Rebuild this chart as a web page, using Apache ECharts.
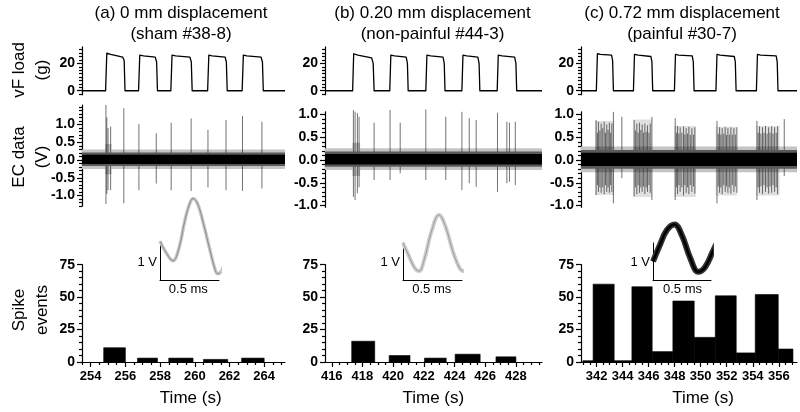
<!DOCTYPE html>
<html><head><meta charset="utf-8">
<script src="https://cdn.jsdelivr.net/npm/echarts@6/dist/echarts.min.js"></script>
<style>html,body{margin:0;padding:0;background:#fff}#c{width:800px;height:412px}</style>
</head><body><div id="c"></div>
<script>
// ================= DATA =================
const titles = [['(a) 0 mm displacement','(sham #38-8)'],['(b) 0.20 mm displacement','(non-painful #44-3)'],['(c) 0.72 mm displacement','(painful #30-7)']];
const rowNames = ['vF load\n(g)','EC data\n(V)','Spike\nevents'];
const timeLabel = 'Time (s)';
const insetVLabel = '1 V';
const insetHLabel = '0.5 ms';

const xTicksA = [254,256,258,260,262,264];
const xTicksB = [416,418,420,422,424,426,428];
const xTicksC = [342,344,346,348,350,352,354,356];
const yTicksLoad = [0,20];
const yTicksEC = [-1.0,-0.5,0.0,0.5,1.0];
const yTicksHist = [0,25,50,75];

// vF load traces [time s, load g]
const loadA = [[253.5,0],[254.86,0],[254.93,27.5],[255.15,26.5],[255.85,24.5],[255.93,22],[255.98,0],
  [256.76,0],[256.83,26],[257.05,25.5],[257.72,24.5],[257.8,21],[257.85,0],
  [258.62,0],[258.69,26],[258.9,25.5],[259.72,24.5],[259.8,21],[259.85,0],
  [260.74,0],[260.81,26],[261.0,25.5],[261.75,24.5],[261.82,21],[261.87,0],
  [262.73,0],[262.8,26],[263.0,25.5],[263.82,24.5],[263.9,21],[263.95,0],[265.2,0]];
const loadB = [[415.56,0],[417.36,0],[417.43,27],[417.7,26],[418.6,24],[418.7,20],[418.76,0],
  [419.78,0],[419.85,26],[420.1,25.5],[420.85,24.5],[420.93,20],[420.98,0],
  [422.13,0],[422.2,26],[422.45,25.5],[423.25,24.5],[423.33,20],[423.38,0],
  [424.48,0],[424.55,26],[424.8,25.5],[425.52,24.5],[425.6,20],[425.65,0],
  [426.78,0],[426.85,26],[427.1,25.5],[427.92,24.5],[428.0,20],[428.05,0],[429.7,0]];
const loadC = [[340.8,0],[341.98,0],[342.06,27],[342.3,26.5],[343.15,26],[343.23,22],[343.29,0],
  [344.83,0],[344.91,26.5],[345.2,26],[346.17,25],[346.25,21],[346.31,0],
  [347.98,0],[348.06,26.5],[348.3,26],[349.35,25.5],[349.43,21],[349.49,0],
  [351.17,0],[351.25,26.5],[351.5,26],[352.58,25],[352.66,21],[352.72,0],
  [354.28,0],[354.36,26.5],[354.6,26],[355.8,25.5],[355.88,21],[355.94,0],[357.4,0]];

// EC noise envelope [t0, t1, low V, high V]
const noiseOuterA = [[253.5,265.2,-0.25,0.3],[254.85,255.2,-0.4,0.45]];
const noiseMidA = [[253.5,265.2,-0.17,0.21]];
const noiseInnerA = [[253.5,265.2,-0.11,0.15]];
const noiseOuterB = [[415.56,429.7,-0.22,0.26],[417.35,417.85,-0.35,0.38]];
const noiseMidB = [[415.56,429.7,-0.15,0.19]];
const noiseInnerB = [[415.56,429.7,-0.1,0.13]];
const noiseOuterC = [[340.8,357.4,-0.27,0.3]];
const noiseMidC = [[340.8,357.4,-0.19,0.22]];
const noiseInnerC = [[340.8,357.4,-0.13,0.16]];
// EC spikes [time s, top V, bottom V]
const spikesA = [[254.88,1.55,-1.24],[254.93,1.2,-0.95],[255.0,0.9,-0.85],[255.15,0.94,-0.85],[255.91,1.46,-1.22],
  [256.78,1.01,-0.85],[257.78,0.75,-0.66],[258.64,1.05,-0.85],[259.79,1.17,-0.87],[260.76,0.85,-0.77],
  [261.8,1.13,-0.85],[262.75,1.24,-0.87],[263.87,1.08,-0.8]];
const spikesB = [[417.41,1.1,-0.81],[417.52,1.06,-0.88],[417.67,1.03,-0.73],[417.78,0.95,-0.6],[418.76,0.82,-0.44],
  [419.8,1.1,-0.44],[420.46,0.82,-0.29],[422.13,1.11,-0.44],[423.43,0.95,-0.44],[424.48,1.06,-0.66],
  [424.96,0.92,-0.51],[425.41,0.88,-0.59],[426.8,1.04,-0.7],[427.41,0.84,-0.51],[427.58,0.82,-0.48],[427.96,0.84,-0.55]];
const burstsC = [[341.88,343.35,-0.77,0.86],[344.83,346.25,-0.81,0.89],[347.95,349.63,-0.81,0.75],[351.15,352.78,-0.78,0.73],[354.27,356.06,-0.78,0.75]];
const spikesC = [[341.96,0.88,-0.77],[342.06,0.6,-0.55],[342.14,0.84,-0.7],[342.25,0.65,-0.6],[342.35,0.8,-0.72],[342.47,0.7,-0.6],[342.58,0.84,-0.75],[342.68,0.6,-0.55],[342.78,0.78,-0.7],[342.88,0.66,-0.6],[342.98,0.82,-0.72],[343.08,0.6,-0.55],[343.17,0.8,-0.7],[343.29,1.06,-0.95],
  [343.94,0.95,-0.4],
  [344.88,0.88,-0.8],[344.98,0.65,-0.6],[345.09,0.8,-0.75],[345.19,0.6,-0.55],[345.29,0.82,-0.72],[345.4,0.66,-0.6],[345.5,0.78,-0.7],[345.6,0.6,-0.58],[345.71,0.8,-0.75],[345.81,0.62,-0.6],[345.91,0.76,-0.7],[346.02,0.6,-0.55],[346.12,0.8,-0.72],[346.25,0.95,-0.88],
  [348.04,0.92,-0.88],[348.13,0.6,-0.6],[348.22,0.75,-0.75],[348.32,0.58,-0.55],[348.42,0.72,-0.7],[348.55,0.6,-0.6],[348.68,0.74,-0.78],[348.78,0.56,-0.55],[348.88,0.7,-0.72],[348.99,0.58,-0.6],[349.09,0.73,-0.75],[349.2,0.55,-0.55],[349.32,0.7,-0.7],[349.44,0.56,-0.58],[349.55,0.72,-0.74],
  [351.25,0.86,-0.95],[351.35,0.58,-0.58],[351.45,0.72,-0.72],[351.55,0.56,-0.6],[351.65,0.7,-0.75],[351.77,0.58,-0.55],[351.88,0.73,-0.7],[351.98,0.55,-0.58],[352.09,0.7,-0.72],[352.2,0.56,-0.6],[352.32,0.72,-0.74],[352.43,0.56,-0.55],[352.55,0.7,-0.7],[352.66,0.56,-0.58],[352.78,0.72,-0.72],
  [354.32,0.86,-0.88],[354.42,0.6,-0.6],[354.52,0.74,-0.72],[354.63,0.58,-0.58],[354.75,0.72,-0.75],[354.86,0.6,-0.55],[354.98,0.75,-0.7],[355.1,0.58,-0.6],[355.22,0.72,-0.74],[355.33,0.6,-0.58],[355.45,0.74,-0.72],[355.56,0.58,-0.55],[355.68,0.72,-0.7],[355.8,0.6,-0.6],[355.91,0.74,-0.75],
  [356.42,0.9,-0.35]];

// Spike-event histograms [bin start s, bin end s, count]
const histA = [[254.75,256.0,11],[256.7,257.85,3],[258.5,259.9,3],[260.5,261.9,2],[262.7,264.0,3]];
const histB = [[417.3,418.8,16],[419.74,421.1,5],[422.04,423.46,3],[424.04,425.67,6],[426.7,428.0,4]];
const histC = [[340.94,341.73,1],[341.73,343.35,60],[343.35,344.71,1],[344.71,346.27,58],[346.27,347.86,8],[347.86,349.5,47],
  [349.5,351.12,19],[351.12,352.73,51],[352.73,354.19,7],[354.19,355.96,52],[355.96,357.09,10]];

// Averaged spike waveforms [time ms, V]
const waveA = [[0.0,1.05],[0.05,0.75],[0.11,0.52],[0.16,0.85],[0.21,1.6],[0.25,2.05],[0.28,2.2],[0.32,2.05],[0.37,1.5],[0.42,0.85],[0.47,0.25],[0.49,0.17],[0.53,0.3],[0.59,0.9],[0.64,1.5],[0.67,1.85]];
const waveB = [[0,1.0],[0.05,0.65],[0.1,0.32],[0.136,0.24],[0.18,0.55],[0.24,1.3],[0.305,1.76],[0.36,1.45],[0.42,0.8],[0.48,0.32],[0.517,0.24],[0.57,0.45],[0.63,0.9],[0.68,1.27]];
const waveC = [[0,0.5],[0.06,0.95],[0.12,1.35],[0.186,1.5],[0.25,1.2],[0.32,0.6],[0.39,0.22],[0.45,0.35],[0.52,0.8],[0.58,1.15],[0.63,1.3]];

// ================= LAYOUT / RENDERING =================
const FONT = '"Liberation Sans", Arial, Helvetica, sans-serif';
const cols = [
  {left:82, width:203, xr:[253.5,265.2], ecr:[-1.3,1.55], ecTop:105, ecH:101.2, inset:{left:160,width:59}, titleX:181, timeX:190.7, hX:188.3,
   xt:xTicksA, load:loadA, nOut:noiseOuterA, nMid:noiseMidA, nIn:noiseInnerA, spikes:spikesA, bursts:[], hist:histA, wave:waveA, wc:['#c8c8c8','#8c8c8c'], ww:[3.5,1]},
  {left:325, width:217, xr:[415.56,429.7], ecr:[-1.04,1.06], ecTop:111.8, ecH:95.55, inset:{left:403,width:59}, titleX:432.5, timeX:433.3, hX:431.7,
   xt:xTicksB, load:loadB, nOut:noiseOuterB, nMid:noiseMidB, nIn:noiseInnerB, spikes:spikesB, bursts:[], hist:histB, wave:waveB, wc:['#d0d0d0','#9a9a9a'], ww:[4,1]},
  {left:581, width:216, xr:[340.8,357.4], ecr:[-1.04,1.06], ecTop:111.8, ecH:95.55, inset:{left:653,width:58}, titleX:682, timeX:703, hX:682.5,
   xt:xTicksC, load:loadC, nOut:noiseOuterC, nMid:noiseMidC, nIn:noiseInnerC, spikes:spikesC, bursts:burstsC, hist:histC, wave:waveC, wc:['#333333','#000000'], ww:[6,2.5]}
];
const LOAD = {top:46.9, h:47.95, min:-3, max:32};
const HIST = {top:264.7, h:97.3, min:0, max:75};
const INSET = {top:243, h:37};

const grid=[], xAxis=[], yAxis=[], series=[], graphic=[];
const lineStyle = {color:'#000', width:1.2};
const lab = {color:'#000', fontFamily:FONT, fontSize:13, fontWeight:'bold'};
const labY = Object.assign({}, lab, {fontSize:14});

function steps(min,max,step,majors){
  const out=[]; const s=Math.ceil(min/step-1e-9);
  for(let i=s; i*step<=max+1e-9; i++){ const v=+(i*step).toFixed(4); if(!majors.some(m=>Math.abs(m-v)<1e-6)) out.push(v); }
  return out;
}
function majorY(gi,min,max,majors,fmt){
  return {type:'value', gridIndex:gi, min, max, position:'left',
    axisLine:{show:true, onZero:false, lineStyle}, axisTick:{show:true, length:5, customValues:majors, lineStyle},
    axisLabel:Object.assign({show:true, customValues:majors, margin:7, formatter:fmt}, labY), splitLine:{show:false}};
}
function minorY(gi,min,max,minors){
  return {type:'value', gridIndex:gi, min, max, position:'left',
    axisLine:{show:false}, axisTick:{show:true, length:3, customValues:minors, lineStyle}, axisLabel:{show:false}, splitLine:{show:false}};
}
function hiddenX(gi,min,max){ return {type:'value', gridIndex:gi, min, max, show:false, splitLine:{show:false}}; }

function rectRender(fill){
  return function(params, api){
    const p1 = api.coord([api.value(0), api.value(3)]);
    const p2 = api.coord([api.value(1), api.value(2)]);
    return {type:'rect', shape:{x:p1[0], y:p1[1], width:p2[0]-p1[0], height:p2[1]-p1[1]}, style:{fill}};
  };
}
function spikeRender(stroke,w){
  return function(params, api){
    const a = api.coord([api.value(0), api.value(1)]);
    const b = api.coord([api.value(0), api.value(2)]);
    return {type:'line', shape:{x1:a[0], y1:a[1], x2:b[0], y2:b[1]}, style:{stroke, lineWidth:w}};
  };
}
function histRender(params, api){
  const a = api.coord([api.value(0), api.value(2)]);
  const b = api.coord([api.value(1), 0]);
  return {type:'rect', shape:{x:a[0], y:a[1], width:b[0]-a[0], height:b[1]-a[1]}, style:{fill:'#000', stroke:'#000', lineWidth:0.6}};
}

cols.forEach((c,ci)=>{
  // ---- load row
  let gi = grid.push({left:c.left, top:LOAD.top, width:c.width, height:LOAD.h})-1;
  let xi = xAxis.push(hiddenX(gi,c.xr[0],c.xr[1]))-1;
  let yi = yAxis.push(majorY(gi,LOAD.min,LOAD.max,yTicksLoad,v=>String(v)))-1;
  yAxis.push(minorY(gi,LOAD.min,LOAD.max,steps(LOAD.min,LOAD.max,2.5,yTicksLoad)));
  series.push({type:'line', xAxisIndex:xi, yAxisIndex:yi, data:c.load, showSymbol:false, symbol:'none',
    lineStyle:{color:'#000', width:1.3, join:'round'}, silent:true});

  // ---- EC row
  gi = grid.push({left:c.left, top:c.ecTop, width:c.width, height:c.ecH})-1;
  xi = xAxis.push(hiddenX(gi,c.xr[0],c.xr[1]))-1;
  yi = yAxis.push(majorY(gi,c.ecr[0],c.ecr[1],yTicksEC,v=>v.toFixed(1)))-1;
  yAxis.push(minorY(gi,c.ecr[0],c.ecr[1],steps(c.ecr[0],c.ecr[1],0.1,yTicksEC)));
  const enc = {x:[0,1], y:[2,3]};
  series.push({type:'custom', xAxisIndex:xi, yAxisIndex:yi, data:c.nOut, encode:enc, renderItem:rectRender('#c4c4c4'), silent:true});
  if(c.bursts.length){
    series.push({type:'custom', xAxisIndex:xi, yAxisIndex:yi, data:c.bursts, encode:enc, renderItem:rectRender('rgba(0,0,0,0.12)'), silent:true});
  }
  series.push({type:'custom', xAxisIndex:xi, yAxisIndex:yi, data:c.spikes, encode:{x:0, y:[1,2]}, renderItem:spikeRender('rgba(0,0,0,0.62)',0.9), silent:true});
  series.push({type:'custom', xAxisIndex:xi, yAxisIndex:yi, data:c.nMid, encode:enc, renderItem:rectRender('#5a5a5a'), silent:true});
  series.push({type:'custom', xAxisIndex:xi, yAxisIndex:yi, data:c.nIn, encode:enc, renderItem:rectRender('#000'), silent:true});

  // ---- histogram row
  gi = grid.push({left:c.left, top:HIST.top, width:c.width, height:HIST.h})-1;
  xi = xAxis.push({type:'value', gridIndex:gi, min:c.xr[0], max:c.xr[1], position:'bottom',
    axisLine:{show:true, onZero:false, lineStyle}, axisTick:{show:true, length:5, customValues:c.xt, lineStyle},
    axisLabel:Object.assign({show:true, customValues:c.xt, margin:8}, lab), splitLine:{show:false}})-1;
  xAxis.push({type:'value', gridIndex:gi, min:c.xr[0], max:c.xr[1], position:'bottom',
    axisLine:{show:false}, axisTick:{show:true, length:3, customValues:steps(c.xr[0],c.xr[1],0.5,c.xt), lineStyle}, axisLabel:{show:false}, splitLine:{show:false}});
  yi = yAxis.push(majorY(gi,HIST.min,HIST.max,yTicksHist,v=>String(v)))-1;
  yAxis.push(minorY(gi,HIST.min,HIST.max,steps(HIST.min,HIST.max,5,yTicksHist)));
  series.push({type:'custom', xAxisIndex:xi, yAxisIndex:yi, data:c.hist, encode:{x:[0,1], y:2}, renderItem:histRender, silent:true});

  // ---- inset waveform (axes drawn as scale bars: 0.5 ms x 1 V)
  gi = grid.push({left:c.inset.left, top:INSET.top, width:c.inset.width, height:INSET.h})-1;
  xi = xAxis.push({type:'value', gridIndex:gi, min:0, max:0.5, position:'bottom', axisLine:{show:true, onZero:false, lineStyle:{color:'#000', width:1}},
    axisTick:{show:false}, axisLabel:{show:false}, splitLine:{show:false}})-1;
  yi = yAxis.push({type:'value', gridIndex:gi, min:0, max:1, position:'left', axisLine:{show:true, onZero:false, lineStyle:{color:'#000', width:1}},
    axisTick:{show:false}, axisLabel:{show:false}, splitLine:{show:false}})-1;
  series.push({type:'line', xAxisIndex:xi, yAxisIndex:yi, data:c.wave, smooth:0.4, clip:false, showSymbol:false, symbol:'none',
    lineStyle:{color:c.wc[0], width:c.ww[0]}, silent:true, z:3});
  series.push({type:'line', xAxisIndex:xi, yAxisIndex:yi, data:c.wave, smooth:0.4, clip:false, showSymbol:false, symbol:'none',
    lineStyle:{color:c.wc[1], width:c.ww[1]}, silent:true, z:4});

  // ---- texts
  graphic.push({type:'text', x:c.titleX, y:13, style:{text:titles[ci][0], fontFamily:FONT, fontSize:17, fill:'#000', textAlign:'center', textVerticalAlign:'middle'}});
  graphic.push({type:'text', x:c.titleX, y:34, style:{text:titles[ci][1], fontFamily:FONT, fontSize:17, fill:'#000', textAlign:'center', textVerticalAlign:'middle'}});
  graphic.push({type:'text', x:c.timeX, y:398, style:{text:timeLabel, fontFamily:FONT, fontSize:17, fill:'#000', textAlign:'center', textVerticalAlign:'middle'}});
  graphic.push({type:'text', x:c.inset.left-3, y:262, style:{text:insetVLabel, fontFamily:FONT, fontSize:13, fill:'#000', textAlign:'right', textVerticalAlign:'middle'}});
  graphic.push({type:'text', x:c.hX, y:289, style:{text:insetHLabel, fontFamily:FONT, fontSize:13, fill:'#000', textAlign:'center', textVerticalAlign:'middle'}});
});
[[31,70],[31,157],[31,310]].forEach((p,i)=>{
  graphic.push({type:'text', x:p[0], y:p[1], rotation:Math.PI/2,
    style:{text:rowNames[i], fontFamily:FONT, fontSize:17, lineHeight:23, fill:'#000', textAlign:'center', textVerticalAlign:'middle'}});
});

const chart = echarts.init(document.getElementById('c'), null, {renderer:'canvas'});
chart.setOption({animation:false, backgroundColor:'#fff', grid, xAxis, yAxis, series, graphic});
</script>
</body></html>
